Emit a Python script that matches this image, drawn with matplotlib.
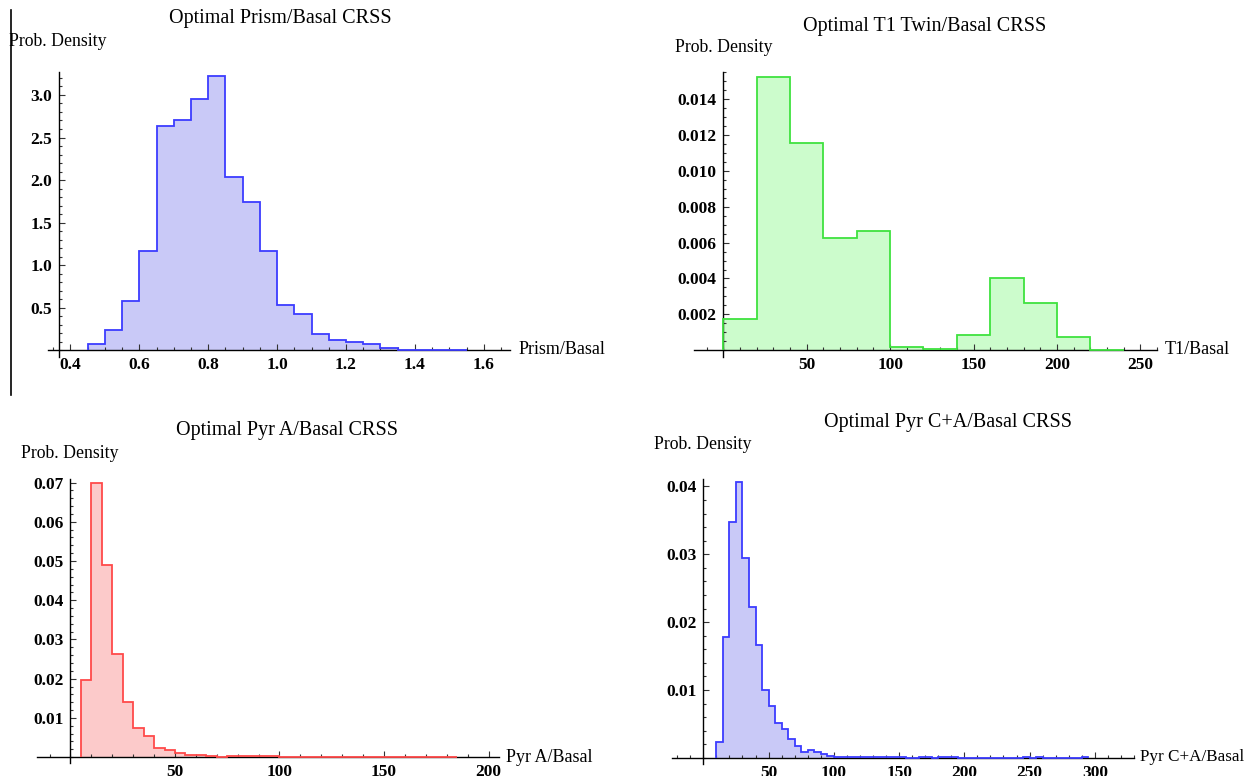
import numpy as np
import matplotlib
matplotlib.use("Agg")
import matplotlib.pyplot as plt
from matplotlib.ticker import MultipleLocator, FixedLocator

plt.rcParams['font.family'] = ['Liberation Serif', 'DejaVu Serif']

W, H = 1249, 776

# --- data (bin start, bin width, densities) ---
prism_start, prism_width = 0.45, 0.05
prism_density = [0.067, 0.243, 0.576, 1.169, 2.64, 2.71, 2.95, 3.22, 2.03, 1.74, 1.165,
                 0.53, 0.42, 0.19, 0.114, 0.098, 0.07, 0.027, 0.008, 0.002, 0.0, 0.006]

twin_start, twin_width = 0, 20
twin_density = [0.00175, 0.0152, 0.01154, 0.00625, 0.00662, 0.00019, 0.0001, 0.00085,
                0.00401, 0.00263, 0.00072, 0.00004]

pyra_start, pyra_width = 5, 5
pyra_density = [0.0197, 0.070, 0.0489, 0.0264, 0.0140, 0.0075, 0.0054, 0.0022, 0.0018,
                0.0011, 0.0006, 0.0006, 0.0002, 0.0, 0.0002, 0.0004, 0.0003, 0.0003,
                0.0003, 0.0, 0.0001, 0.0, 0.0, 0.0, 0.0, 0.0, 0.0, 0.0001, 0.0, 0.0001,
                0.0001, 0.0001, 0.0, 0.0, 0.0, 0.0001]

pyrca_start, pyrca_width = 10, 5
pyrca_density = [0.0023, 0.0178, 0.0348, 0.0407, 0.0294, 0.0223, 0.0166, 0.0100, 0.0076,
                 0.0051, 0.0043, 0.0028, 0.0018, 0.0008, 0.0012, 0.0008, 0.0006, 0.0003,
                 0.0002, 0.0002, 0.0001, 0.0002, 0.0002, 0.0001, 0.0001, 0.0001, 0.0002,
                 0.0001, 0.0001, 0.0, 0.0, 0.0001, 0.0001, 0.0, 0.0001, 0.0001, 0.0001,
                 0.0, 0.0, 0.0, 0.0, 0.0, 0.0, 0.0, 0.0, 0.0, 0.0, 0.0002, 0.0, 0.0001,
                 0.0, 0.0, 0.0, 0.0, 0.0, 0.0, 0.0001]

fig = plt.figure(figsize=(W / 100, H / 100), dpi=100)


def panel(box, xlim, ylim, yaxis_x, start, width, dens, fill, edge,
          xmajor, xminor, ymajor, yminor, xfmt, yfmt):
    left, right, top, bottom = box
    ax = fig.add_axes([left / W, 1 - bottom / H, (right - left) / W, (bottom - top) / H])
    edges = start + width * np.arange(len(dens) + 1)
    ax.stairs(dens, edges, fill=True, color=fill, zorder=1)
    ax.stairs(dens, edges, baseline=0, color=edge, lw=1.3, zorder=3)
    ax.set_xlim(*xlim)
    ax.set_ylim(*ylim)
    for s in ['top', 'right']:
        ax.spines[s].set_visible(False)
    ax.spines['left'].set_position(('data', yaxis_x))
    ax.spines['bottom'].set_position(('data', 0))
    ax.spines['left'].set_linewidth(1.0)
    ax.spines['bottom'].set_linewidth(1.0)
    ax.patch.set_alpha(0)
    ax.xaxis.set_major_locator(FixedLocator(xmajor))
    ax.xaxis.set_minor_locator(MultipleLocator(xminor))
    ax.yaxis.set_major_locator(FixedLocator(ymajor))
    ax.yaxis.set_minor_locator(MultipleLocator(yminor))
    ax.set_xticklabels([xfmt % v for v in xmajor])
    ax.set_yticklabels([yfmt % v for v in ymajor])
    ax.tick_params(which='both', direction='in', width=0.8, color='#333333')
    ax.tick_params(which='major', length=4)
    ax.tick_params(which='minor', length=2.5)
    ax.tick_params(axis='x', which='major', pad=5)
    ax.tick_params(axis='y', which='major', pad=5)
    for lab in ax.get_xticklabels() + ax.get_yticklabels():
        lab.set_fontsize(12.5)
        lab.set_fontweight('bold')
    return ax


def ftext(x, y, s, size, ha='left', va='center', weight='normal'):
    fig.text(x / W, 1 - y / H, s, fontsize=size, ha=ha, va=va, fontweight=weight)


blue_fill, blue_edge = '#c9c9f7', '#3c3cff'
green_fill, green_edge = '#ccfccc', '#3fe23f'
red_fill, red_edge = '#fccaca', '#ff4a4a'

# top-left
panel((48, 510, 72, 357), (0.335, 1.676), (-0.08, 3.27), 0.368,
      prism_start, prism_width, prism_density, blue_fill, blue_edge,
      [0.4, 0.6, 0.8, 1.0, 1.2, 1.4, 1.6], 0.05,
      [0.5, 1.0, 1.5, 2.0, 2.5, 3.0], 0.1, '%.1f', '%.1f')
ftext(280, 19, 'Optimal Prism/Basal CRSS', 14.5, ha='center')
ftext(9, 41, 'Prob. Density', 12.8)
ftext(519, 350, 'Prism/Basal', 13)

# top-right
panel((694, 1157, 72, 357.5), (-17.6, 260), (-0.0004, 0.0155), 0,
      twin_start, twin_width, twin_density, green_fill, green_edge,
      [50, 100, 150, 200, 250], 10,
      [0.002, 0.004, 0.006, 0.008, 0.010, 0.012, 0.014], 0.0005, '%d', '%.3f')
ftext(925, 26, 'Optimal T1 Twin/Basal CRSS', 14.5, ha='center')
ftext(675, 48, 'Prob. Density', 12.8)
ftext(1165, 350, 'T1/Basal', 13)

# bottom-left
panel((37, 499, 479, 763), (-16, 205), (-0.0015, 0.0709), 0,
      pyra_start, pyra_width, pyra_density, red_fill, red_edge,
      [50, 100, 150, 200], 10,
      [0.01, 0.02, 0.03, 0.04, 0.05, 0.06, 0.07], 0.002, '%d', '%.2f')
ftext(287, 431, 'Optimal Pyr A/Basal CRSS', 14.5, ha='center')
ftext(21, 453, 'Prob. Density', 12.8)
ftext(506, 757, 'Pyr A/Basal', 13)

# bottom-right
panel((672, 1134, 479, 764), (-24, 330), (-0.0009, 0.0411), 0,
      pyrca_start, pyrca_width, pyrca_density, blue_fill, blue_edge,
      [50, 100, 150, 200, 250, 300], 10,
      [0.01, 0.02, 0.03, 0.04], 0.002, '%d', '%.2f')
ftext(948, 423, 'Optimal Pyr C+A/Basal CRSS', 14.5, ha='center')
ftext(654, 445, 'Prob. Density', 12.8)
ftext(1140, 757, 'Pyr C+A/Basal', 12.3)

# stray frame line at the left edge of the first panel
fig.add_artist(plt.Line2D([10.7 / W, 10.7 / W], [1 - 10 / H, 1 - 395 / H],
                          color='black', lw=1.2))

fig.savefig('out.png', dpi=100)
